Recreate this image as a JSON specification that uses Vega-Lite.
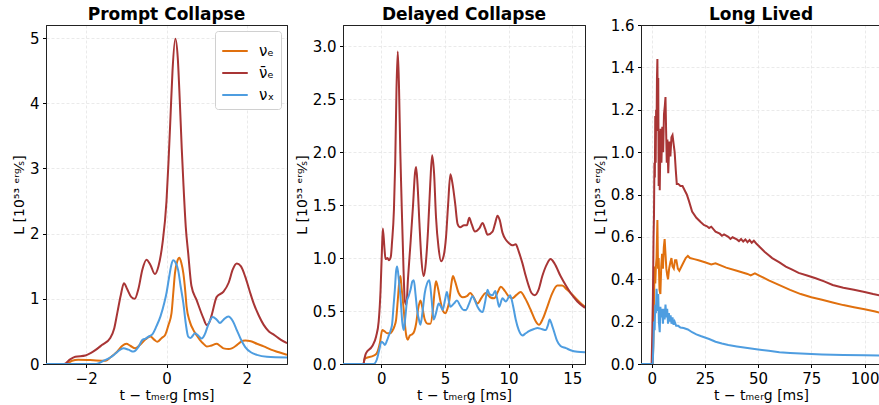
{
  "$schema": "https://vega.github.io/schema/vega-lite/v6.json",
  "padding": {"left": 11, "top": 5, "right": 0, "bottom": 0},
  "bounds": "flush",
  "spacing": 56,
  "config": {
    "font": "DejaVu Sans",
    "view": {"stroke": "#222222", "strokeWidth": 1},
    "style": {"cell": {"stroke": "#222222", "strokeWidth": 1}},
    "title": {"fontSize": 17, "fontWeight": "bold", "font": "DejaVu Sans", "offset": 1, "baseline": "alphabetic", "color": "black"},
    "axis": {
      "domain": true, "domainColor": "#222222", "domainWidth": 1, "labelFont": "DejaVu Sans", "labelFontSize": 15, "labelColor": "black",
      "titleFont": "DejaVu Sans", "titleFontSize": 14, "titleFontWeight": "normal", "titleColor": "black",
      "tickColor": "black", "tickSize": 3.5, "labelPadding": 3.5,
      "gridColor": "#e4e4e4", "gridDash": [3, 2], "gridWidth": 0.8
    },
    "axisX": {"titlePadding": 2},
    "axisY": {"titlePadding": 3},
    "line": {"strokeWidth": 2, "clip": true}
  },
  "datasets": {
    "p1": [
      {"t":-3,"L":0,"s":"νₑ"},{"t":-2.5,"L":0,"s":"νₑ"},{"t":-2.35,"L":0.05,"s":"νₑ"},{"t":-2.2,"L":0.065,"s":"νₑ"},{"t":-1.9,"L":0.06,"s":"νₑ"},{"t":-1.52,"L":0.05,"s":"νₑ"},{"t":-1.4,"L":0.1,"s":"νₑ"},{"t":-1.23,"L":0.19,"s":"νₑ"},{"t":-1.1,"L":0.28,"s":"νₑ"},{"t":-1.0,"L":0.31,"s":"νₑ"},{"t":-0.9,"L":0.28,"s":"νₑ"},{"t":-0.78,"L":0.24,"s":"νₑ"},{"t":-0.65,"L":0.3,"s":"νₑ"},{"t":-0.52,"L":0.38,"s":"νₑ"},{"t":-0.4,"L":0.42,"s":"νₑ"},{"t":-0.3,"L":0.37,"s":"νₑ"},{"t":-0.23,"L":0.34,"s":"νₑ"},{"t":-0.12,"L":0.4,"s":"νₑ"},{"t":-0.03,"L":0.45,"s":"νₑ"},{"t":0.05,"L":0.6,"s":"νₑ"},{"t":0.125,"L":0.78,"s":"νₑ"},{"t":0.17,"L":1.1,"s":"νₑ"},{"t":0.21,"L":1.39,"s":"νₑ"},{"t":0.27,"L":1.58,"s":"νₑ"},{"t":0.32,"L":1.63,"s":"νₑ"},{"t":0.37,"L":1.55,"s":"νₑ"},{"t":0.42,"L":1.39,"s":"νₑ"},{"t":0.47,"L":1.1,"s":"νₑ"},{"t":0.5,"L":0.88,"s":"νₑ"},{"t":0.58,"L":0.65,"s":"νₑ"},{"t":0.67,"L":0.52,"s":"νₑ"},{"t":0.75,"L":0.44,"s":"νₑ"},{"t":0.83,"L":0.37,"s":"νₑ"},{"t":0.92,"L":0.31,"s":"νₑ"},{"t":1.0,"L":0.27,"s":"νₑ"},{"t":1.1,"L":0.28,"s":"νₑ"},{"t":1.25,"L":0.31,"s":"νₑ"},{"t":1.33,"L":0.28,"s":"νₑ"},{"t":1.42,"L":0.24,"s":"νₑ"},{"t":1.55,"L":0.23,"s":"νₑ"},{"t":1.625,"L":0.24,"s":"νₑ"},{"t":1.75,"L":0.29,"s":"νₑ"},{"t":1.85,"L":0.34,"s":"νₑ"},{"t":1.96,"L":0.36,"s":"νₑ"},{"t":2.1,"L":0.35,"s":"νₑ"},{"t":2.25,"L":0.31,"s":"νₑ"},{"t":2.42,"L":0.27,"s":"νₑ"},{"t":2.6,"L":0.22,"s":"νₑ"},{"t":2.8,"L":0.18,"s":"νₑ"},{"t":3.0,"L":0.14,"s":"νₑ"},

      {"t":-3,"L":0,"s":"ν̄ₑ"},{"t":-2.55,"L":0,"s":"ν̄ₑ"},{"t":-2.4,"L":0.07,"s":"ν̄ₑ"},{"t":-2.27,"L":0.11,"s":"ν̄ₑ"},{"t":-2.02,"L":0.13,"s":"ν̄ₑ"},{"t":-1.8,"L":0.2,"s":"ν̄ₑ"},{"t":-1.61,"L":0.29,"s":"ν̄ₑ"},{"t":-1.4,"L":0.4,"s":"ν̄ₑ"},{"t":-1.3,"L":0.55,"s":"ν̄ₑ"},{"t":-1.22,"L":0.8,"s":"ν̄ₑ"},{"t":-1.14,"L":1.05,"s":"ν̄ₑ"},{"t":-1.06,"L":1.24,"s":"ν̄ₑ"},{"t":-0.98,"L":1.15,"s":"ν̄ₑ"},{"t":-0.88,"L":1.03,"s":"ν̄ₑ"},{"t":-0.79,"L":1.0,"s":"ν̄ₑ"},{"t":-0.7,"L":1.15,"s":"ν̄ₑ"},{"t":-0.6,"L":1.45,"s":"ν̄ₑ"},{"t":-0.5,"L":1.6,"s":"ν̄ₑ"},{"t":-0.4,"L":1.52,"s":"ν̄ₑ"},{"t":-0.29,"L":1.38,"s":"ν̄ₑ"},{"t":-0.2,"L":1.5,"s":"ν̄ₑ"},{"t":-0.1,"L":1.85,"s":"ν̄ₑ"},{"t":0.0,"L":2.5,"s":"ν̄ₑ"},{"t":0.05,"L":3.1,"s":"ν̄ₑ"},{"t":0.1,"L":3.8,"s":"ν̄ₑ"},{"t":0.15,"L":4.5,"s":"ν̄ₑ"},{"t":0.22,"L":4.99,"s":"ν̄ₑ"},{"t":0.28,"L":4.7,"s":"ν̄ₑ"},{"t":0.33,"L":4.05,"s":"ν̄ₑ"},{"t":0.38,"L":3.3,"s":"ν̄ₑ"},{"t":0.42,"L":2.78,"s":"ν̄ₑ"},{"t":0.48,"L":2.1,"s":"ν̄ₑ"},{"t":0.54,"L":1.7,"s":"ν̄ₑ"},{"t":0.62,"L":1.2,"s":"ν̄ₑ"},{"t":0.75,"L":0.98,"s":"ν̄ₑ"},{"t":0.92,"L":0.7,"s":"ν̄ₑ"},{"t":1.0,"L":0.6,"s":"ν̄ₑ"},{"t":1.06,"L":0.63,"s":"ν̄ₑ"},{"t":1.125,"L":0.75,"s":"ν̄ₑ"},{"t":1.25,"L":1.03,"s":"ν̄ₑ"},{"t":1.42,"L":1.11,"s":"ν̄ₑ"},{"t":1.55,"L":1.25,"s":"ν̄ₑ"},{"t":1.65,"L":1.45,"s":"ν̄ₑ"},{"t":1.75,"L":1.54,"s":"ν̄ₑ"},{"t":1.85,"L":1.5,"s":"ν̄ₑ"},{"t":1.96,"L":1.34,"s":"ν̄ₑ"},{"t":2.07,"L":1.12,"s":"ν̄ₑ"},{"t":2.17,"L":0.93,"s":"ν̄ₑ"},{"t":2.3,"L":0.74,"s":"ν̄ₑ"},{"t":2.42,"L":0.6,"s":"ν̄ₑ"},{"t":2.55,"L":0.5,"s":"ν̄ₑ"},{"t":2.67,"L":0.45,"s":"ν̄ₑ"},{"t":2.85,"L":0.37,"s":"ν̄ₑ"},{"t":3.0,"L":0.32,"s":"ν̄ₑ"},

      {"t":-3,"L":0,"s":"νₓ"},{"t":-1.75,"L":0,"s":"νₓ"},{"t":-1.57,"L":0.05,"s":"νₓ"},{"t":-1.4,"L":0.1,"s":"νₓ"},{"t":-1.27,"L":0.16,"s":"νₓ"},{"t":-1.15,"L":0.22,"s":"νₓ"},{"t":-1.07,"L":0.24,"s":"νₓ"},{"t":-0.95,"L":0.22,"s":"νₓ"},{"t":-0.82,"L":0.19,"s":"νₓ"},{"t":-0.7,"L":0.26,"s":"νₓ"},{"t":-0.6,"L":0.37,"s":"νₓ"},{"t":-0.52,"L":0.39,"s":"νₓ"},{"t":-0.42,"L":0.43,"s":"νₓ"},{"t":-0.36,"L":0.45,"s":"νₓ"},{"t":-0.25,"L":0.58,"s":"νₓ"},{"t":-0.15,"L":0.73,"s":"νₓ"},{"t":-0.05,"L":0.95,"s":"νₓ"},{"t":0.0,"L":1.09,"s":"νₓ"},{"t":0.07,"L":1.35,"s":"νₓ"},{"t":0.12,"L":1.52,"s":"νₓ"},{"t":0.17,"L":1.59,"s":"νₓ"},{"t":0.23,"L":1.55,"s":"νₓ"},{"t":0.29,"L":1.44,"s":"νₓ"},{"t":0.35,"L":1.2,"s":"νₓ"},{"t":0.42,"L":0.93,"s":"νₓ"},{"t":0.48,"L":0.62,"s":"νₓ"},{"t":0.54,"L":0.42,"s":"νₓ"},{"t":0.6,"L":0.4,"s":"νₓ"},{"t":0.71,"L":0.47,"s":"νₓ"},{"t":0.8,"L":0.43,"s":"νₓ"},{"t":0.875,"L":0.39,"s":"νₓ"},{"t":0.95,"L":0.45,"s":"νₓ"},{"t":1.05,"L":0.62,"s":"νₓ"},{"t":1.15,"L":0.72,"s":"νₓ"},{"t":1.25,"L":0.68,"s":"νₓ"},{"t":1.33,"L":0.63,"s":"νₓ"},{"t":1.42,"L":0.68,"s":"νₓ"},{"t":1.54,"L":0.73,"s":"νₓ"},{"t":1.65,"L":0.66,"s":"νₓ"},{"t":1.75,"L":0.52,"s":"νₓ"},{"t":1.85,"L":0.38,"s":"νₓ"},{"t":1.96,"L":0.26,"s":"νₓ"},{"t":2.1,"L":0.18,"s":"νₓ"},{"t":2.25,"L":0.14,"s":"νₓ"},{"t":2.5,"L":0.11,"s":"νₓ"},{"t":3.0,"L":0.1,"s":"νₓ"}
    ],
    "p2": [
      {"t":-3,"L":0,"s":"νₑ"},{"t":-1.4,"L":0,"s":"νₑ"},{"t":-1.3,"L":0.05,"s":"νₑ"},{"t":-0.57,"L":0.08,"s":"νₑ"},{"t":-0.35,"L":0.1,"s":"νₑ"},{"t":-0.1,"L":0.2,"s":"νₑ"},{"t":0.08,"L":0.32,"s":"νₑ"},{"t":0.25,"L":0.31,"s":"νₑ"},{"t":0.47,"L":0.29,"s":"νₑ"},{"t":0.7,"L":0.29,"s":"νₑ"},{"t":0.86,"L":0.31,"s":"νₑ"},{"t":1.05,"L":0.36,"s":"νₑ"},{"t":1.17,"L":0.42,"s":"νₑ"},{"t":1.3,"L":0.6,"s":"νₑ"},{"t":1.42,"L":0.78,"s":"νₑ"},{"t":1.51,"L":0.83,"s":"νₑ"},{"t":1.6,"L":0.72,"s":"νₑ"},{"t":1.77,"L":0.51,"s":"νₑ"},{"t":1.9,"L":0.33,"s":"νₑ"},{"t":2.0,"L":0.25,"s":"νₑ"},{"t":2.09,"L":0.23,"s":"νₑ"},{"t":2.25,"L":0.27,"s":"νₑ"},{"t":2.43,"L":0.28,"s":"νₑ"},{"t":2.6,"L":0.31,"s":"νₑ"},{"t":2.74,"L":0.38,"s":"νₑ"},{"t":2.9,"L":0.52,"s":"νₑ"},{"t":3.08,"L":0.6,"s":"νₑ"},{"t":3.25,"L":0.52,"s":"νₑ"},{"t":3.42,"L":0.42,"s":"νₑ"},{"t":3.65,"L":0.38,"s":"νₑ"},{"t":3.86,"L":0.38,"s":"νₑ"},{"t":4.05,"L":0.5,"s":"νₑ"},{"t":4.2,"L":0.7,"s":"νₑ"},{"t":4.3,"L":0.78,"s":"νₑ"},{"t":4.45,"L":0.72,"s":"νₑ"},{"t":4.64,"L":0.6,"s":"νₑ"},{"t":4.85,"L":0.5,"s":"νₑ"},{"t":5.03,"L":0.48,"s":"νₑ"},{"t":5.2,"L":0.52,"s":"νₑ"},{"t":5.35,"L":0.6,"s":"νₑ"},{"t":5.5,"L":0.75,"s":"νₑ"},{"t":5.63,"L":0.83,"s":"νₑ"},{"t":5.8,"L":0.78,"s":"νₑ"},{"t":6.08,"L":0.67,"s":"νₑ"},{"t":6.4,"L":0.63,"s":"νₑ"},{"t":6.73,"L":0.64,"s":"νₑ"},{"t":6.99,"L":0.67,"s":"νₑ"},{"t":7.3,"L":0.62,"s":"νₑ"},{"t":7.56,"L":0.57,"s":"νₑ"},{"t":7.9,"L":0.63,"s":"νₑ"},{"t":8.2,"L":0.67,"s":"νₑ"},{"t":8.55,"L":0.63,"s":"νₑ"},{"t":8.87,"L":0.62,"s":"νₑ"},{"t":9.15,"L":0.68,"s":"νₑ"},{"t":9.39,"L":0.73,"s":"νₑ"},{"t":9.7,"L":0.69,"s":"νₑ"},{"t":10.0,"L":0.64,"s":"νₑ"},{"t":10.3,"L":0.62,"s":"νₑ"},{"t":10.6,"L":0.65,"s":"νₑ"},{"t":10.95,"L":0.68,"s":"νₑ"},{"t":11.3,"L":0.62,"s":"νₑ"},{"t":11.74,"L":0.51,"s":"νₑ"},{"t":12.1,"L":0.41,"s":"νₑ"},{"t":12.39,"L":0.37,"s":"νₑ"},{"t":12.7,"L":0.43,"s":"νₑ"},{"t":13.04,"L":0.54,"s":"νₑ"},{"t":13.4,"L":0.66,"s":"νₑ"},{"t":13.83,"L":0.74,"s":"νₑ"},{"t":14.2,"L":0.74,"s":"νₑ"},{"t":14.6,"L":0.7,"s":"νₑ"},{"t":15.2,"L":0.63,"s":"νₑ"},{"t":15.6,"L":0.58,"s":"νₑ"},{"t":16,"L":0.54,"s":"νₑ"},

      {"t":-3,"L":0,"s":"ν̄ₑ"},{"t":-1.4,"L":0,"s":"ν̄ₑ"},{"t":-1.3,"L":0.06,"s":"ν̄ₑ"},{"t":-1.2,"L":0.1,"s":"ν̄ₑ"},{"t":-0.7,"L":0.17,"s":"ν̄ₑ"},{"t":-0.4,"L":0.26,"s":"ν̄ₑ"},{"t":-0.2,"L":0.4,"s":"ν̄ₑ"},{"t":-0.05,"L":0.7,"s":"ν̄ₑ"},{"t":0.05,"L":1.05,"s":"ν̄ₑ"},{"t":0.13,"L":1.28,"s":"ν̄ₑ"},{"t":0.25,"L":1.1,"s":"ν̄ₑ"},{"t":0.34,"L":0.99,"s":"ν̄ₑ"},{"t":0.5,"L":1.0,"s":"ν̄ₑ"},{"t":0.6,"L":0.98,"s":"ν̄ₑ"},{"t":0.75,"L":1.01,"s":"ν̄ₑ"},{"t":0.85,"L":1.15,"s":"ν̄ₑ"},{"t":1.0,"L":1.46,"s":"ν̄ₑ"},{"t":1.1,"L":1.9,"s":"ν̄ₑ"},{"t":1.2,"L":2.6,"s":"ν̄ₑ"},{"t":1.3,"L":2.95,"s":"ν̄ₑ"},{"t":1.4,"L":2.6,"s":"ν̄ₑ"},{"t":1.5,"L":2.0,"s":"ν̄ₑ"},{"t":1.59,"L":1.58,"s":"ν̄ₑ"},{"t":1.75,"L":0.9,"s":"ν̄ₑ"},{"t":1.85,"L":0.6,"s":"ν̄ₑ"},{"t":1.98,"L":0.56,"s":"ν̄ₑ"},{"t":2.1,"L":0.8,"s":"ν̄ₑ"},{"t":2.3,"L":1.14,"s":"ν̄ₑ"},{"t":2.5,"L":1.5,"s":"ν̄ₑ"},{"t":2.65,"L":1.8,"s":"ν̄ₑ"},{"t":2.74,"L":1.86,"s":"ν̄ₑ"},{"t":2.85,"L":1.7,"s":"ν̄ₑ"},{"t":3.0,"L":1.33,"s":"ν̄ₑ"},{"t":3.15,"L":1.0,"s":"ν̄ₑ"},{"t":3.34,"L":0.83,"s":"ν̄ₑ"},{"t":3.5,"L":0.95,"s":"ν̄ₑ"},{"t":3.68,"L":1.27,"s":"ν̄ₑ"},{"t":3.85,"L":1.7,"s":"ν̄ₑ"},{"t":4.0,"L":1.97,"s":"ν̄ₑ"},{"t":4.15,"L":1.8,"s":"ν̄ₑ"},{"t":4.3,"L":1.39,"s":"ν̄ₑ"},{"t":4.5,"L":1.1,"s":"ν̄ₑ"},{"t":4.7,"L":0.97,"s":"ν̄ₑ"},{"t":4.9,"L":1.02,"s":"ν̄ₑ"},{"t":5.09,"L":1.2,"s":"ν̄ₑ"},{"t":5.25,"L":1.5,"s":"ν̄ₑ"},{"t":5.43,"L":1.79,"s":"ν̄ₑ"},{"t":5.6,"L":1.7,"s":"ν̄ₑ"},{"t":5.8,"L":1.52,"s":"ν̄ₑ"},{"t":6.0,"L":1.32,"s":"ν̄ₑ"},{"t":6.2,"L":1.29,"s":"ν̄ₑ"},{"t":6.5,"L":1.31,"s":"ν̄ₑ"},{"t":6.73,"L":1.31,"s":"ν̄ₑ"},{"t":6.91,"L":1.38,"s":"ν̄ₑ"},{"t":7.1,"L":1.32,"s":"ν̄ₑ"},{"t":7.36,"L":1.25,"s":"ν̄ₑ"},{"t":7.7,"L":1.28,"s":"ν̄ₑ"},{"t":7.96,"L":1.33,"s":"ν̄ₑ"},{"t":8.15,"L":1.28,"s":"ν̄ₑ"},{"t":8.35,"L":1.22,"s":"ν̄ₑ"},{"t":8.74,"L":1.25,"s":"ν̄ₑ"},{"t":8.95,"L":1.33,"s":"ν̄ₑ"},{"t":9.13,"L":1.4,"s":"ν̄ₑ"},{"t":9.3,"L":1.36,"s":"ν̄ₑ"},{"t":9.52,"L":1.24,"s":"ν̄ₑ"},{"t":9.8,"L":1.17,"s":"ν̄ₑ"},{"t":10.04,"L":1.14,"s":"ν̄ₑ"},{"t":10.3,"L":1.12,"s":"ν̄ₑ"},{"t":10.56,"L":1.13,"s":"ν̄ₑ"},{"t":10.8,"L":1.06,"s":"ν̄ₑ"},{"t":11.09,"L":0.95,"s":"ν̄ₑ"},{"t":11.35,"L":0.83,"s":"ν̄ₑ"},{"t":11.6,"L":0.73,"s":"ν̄ₑ"},{"t":11.8,"L":0.67,"s":"ν̄ₑ"},{"t":12.05,"L":0.65,"s":"ν̄ₑ"},{"t":12.35,"L":0.7,"s":"ν̄ₑ"},{"t":12.65,"L":0.83,"s":"ν̄ₑ"},{"t":13.0,"L":0.94,"s":"ν̄ₑ"},{"t":13.3,"L":0.99,"s":"ν̄ₑ"},{"t":13.6,"L":0.95,"s":"ν̄ₑ"},{"t":14.08,"L":0.83,"s":"ν̄ₑ"},{"t":14.5,"L":0.74,"s":"ν̄ₑ"},{"t":14.87,"L":0.67,"s":"ν̄ₑ"},{"t":15.4,"L":0.59,"s":"ν̄ₑ"},{"t":16,"L":0.53,"s":"ν̄ₑ"},

      {"t":-3,"L":0,"s":"νₓ"},{"t":-0.6,"L":0,"s":"νₓ"},{"t":-0.35,"L":0.04,"s":"νₓ"},{"t":-0.18,"L":0.12,"s":"νₓ"},{"t":0.02,"L":0.21,"s":"νₓ"},{"t":0.15,"L":0.2,"s":"νₓ"},{"t":0.29,"L":0.18,"s":"νₓ"},{"t":0.45,"L":0.22,"s":"νₓ"},{"t":0.6,"L":0.27,"s":"νₓ"},{"t":0.75,"L":0.32,"s":"νₓ"},{"t":0.86,"L":0.38,"s":"νₓ"},{"t":0.97,"L":0.55,"s":"νₓ"},{"t":1.07,"L":0.7,"s":"νₓ"},{"t":1.17,"L":0.88,"s":"νₓ"},{"t":1.25,"L":0.92,"s":"νₓ"},{"t":1.38,"L":0.8,"s":"νₓ"},{"t":1.51,"L":0.64,"s":"νₓ"},{"t":1.65,"L":0.4,"s":"νₓ"},{"t":1.77,"L":0.32,"s":"νₓ"},{"t":1.9,"L":0.45,"s":"νₓ"},{"t":2.03,"L":0.6,"s":"νₓ"},{"t":2.15,"L":0.64,"s":"νₓ"},{"t":2.3,"L":0.7,"s":"νₓ"},{"t":2.45,"L":0.78,"s":"νₓ"},{"t":2.56,"L":0.79,"s":"νₓ"},{"t":2.7,"L":0.65,"s":"νₓ"},{"t":2.82,"L":0.51,"s":"νₓ"},{"t":3.0,"L":0.4,"s":"νₓ"},{"t":3.08,"L":0.37,"s":"νₓ"},{"t":3.25,"L":0.5,"s":"νₓ"},{"t":3.42,"L":0.67,"s":"νₓ"},{"t":3.6,"L":0.76,"s":"νₓ"},{"t":3.78,"L":0.79,"s":"νₓ"},{"t":3.95,"L":0.62,"s":"νₓ"},{"t":4.12,"L":0.42,"s":"νₓ"},{"t":4.3,"L":0.48,"s":"νₓ"},{"t":4.51,"L":0.57,"s":"νₓ"},{"t":4.65,"L":0.55,"s":"νₓ"},{"t":4.83,"L":0.51,"s":"νₓ"},{"t":5.0,"L":0.6,"s":"νₓ"},{"t":5.16,"L":0.68,"s":"νₓ"},{"t":5.3,"L":0.6,"s":"νₓ"},{"t":5.42,"L":0.54,"s":"νₓ"},{"t":5.7,"L":0.57,"s":"νₓ"},{"t":5.95,"L":0.6,"s":"νₓ"},{"t":6.2,"L":0.55,"s":"νₓ"},{"t":6.47,"L":0.51,"s":"νₓ"},{"t":6.65,"L":0.51,"s":"νₓ"},{"t":6.9,"L":0.57,"s":"νₓ"},{"t":7.17,"L":0.64,"s":"νₓ"},{"t":7.35,"L":0.6,"s":"νₓ"},{"t":7.56,"L":0.54,"s":"νₓ"},{"t":7.96,"L":0.49,"s":"νₓ"},{"t":8.15,"L":0.58,"s":"νₓ"},{"t":8.35,"L":0.7,"s":"νₓ"},{"t":8.5,"L":0.66,"s":"νₓ"},{"t":8.74,"L":0.65,"s":"νₓ"},{"t":8.95,"L":0.69,"s":"νₓ"},{"t":9.1,"L":0.62,"s":"νₓ"},{"t":9.26,"L":0.54,"s":"νₓ"},{"t":9.52,"L":0.62,"s":"νₓ"},{"t":9.78,"L":0.59,"s":"νₓ"},{"t":10.12,"L":0.65,"s":"νₓ"},{"t":10.35,"L":0.55,"s":"νₓ"},{"t":10.56,"L":0.42,"s":"νₓ"},{"t":10.8,"L":0.32,"s":"νₓ"},{"t":11.09,"L":0.27,"s":"νₓ"},{"t":11.35,"L":0.29,"s":"νₓ"},{"t":11.6,"L":0.31,"s":"νₓ"},{"t":12.0,"L":0.33,"s":"νₓ"},{"t":12.26,"L":0.34,"s":"νₓ"},{"t":12.6,"L":0.33,"s":"νₓ"},{"t":12.91,"L":0.32,"s":"νₓ"},{"t":13.1,"L":0.37,"s":"νₓ"},{"t":13.22,"L":0.42,"s":"νₓ"},{"t":13.4,"L":0.37,"s":"νₓ"},{"t":13.56,"L":0.31,"s":"νₓ"},{"t":13.8,"L":0.22,"s":"νₓ"},{"t":14.08,"L":0.17,"s":"νₓ"},{"t":14.5,"L":0.15,"s":"νₓ"},{"t":14.87,"L":0.13,"s":"νₓ"},{"t":15.4,"L":0.115,"s":"νₓ"},{"t":16,"L":0.11,"s":"νₓ"}
    ],
    "p3": [
      {"t":-5,"L":0,"s":"νₑ"},{"t":0.5,"L":0,"s":"νₑ"},{"t":0.8,"L":0.1,"s":"νₑ"},{"t":1.1,"L":0.3,"s":"νₑ"},{"t":1.4,"L":0.46,"s":"νₑ"},{"t":1.7,"L":0.38,"s":"νₑ"},{"t":2.0,"L":0.46,"s":"νₑ"},{"t":2.3,"L":0.5,"s":"νₑ"},{"t":2.7,"L":0.68,"s":"νₑ"},{"t":3.0,"L":0.45,"s":"νₑ"},{"t":3.3,"L":0.5,"s":"νₑ"},{"t":3.7,"L":0.35,"s":"νₑ"},{"t":4.1,"L":0.33,"s":"νₑ"},{"t":4.5,"L":0.46,"s":"νₑ"},{"t":4.9,"L":0.52,"s":"νₑ"},{"t":5.3,"L":0.45,"s":"νₑ"},{"t":5.7,"L":0.55,"s":"νₑ"},{"t":6.1,"L":0.59,"s":"νₑ"},{"t":6.5,"L":0.52,"s":"νₑ"},{"t":6.9,"L":0.45,"s":"νₑ"},{"t":7.3,"L":0.42,"s":"νₑ"},{"t":7.7,"L":0.4,"s":"νₑ"},{"t":8.2,"L":0.45,"s":"νₑ"},{"t":8.8,"L":0.48,"s":"νₑ"},{"t":9.3,"L":0.5,"s":"νₑ"},{"t":9.8,"L":0.46,"s":"νₑ"},{"t":10.4,"L":0.45,"s":"νₑ"},{"t":11,"L":0.49,"s":"νₑ"},{"t":11.6,"L":0.49,"s":"νₑ"},{"t":12.3,"L":0.45,"s":"νₑ"},{"t":13,"L":0.44,"s":"νₑ"},{"t":14,"L":0.46,"s":"νₑ"},{"t":15,"L":0.48,"s":"νₑ"},{"t":16,"L":0.5,"s":"νₑ"},{"t":17,"L":0.51,"s":"νₑ"},{"t":18,"L":0.5,"s":"νₑ"},{"t":20,"L":0.495,"s":"νₑ"},{"t":22,"L":0.49,"s":"νₑ"},{"t":25,"L":0.48,"s":"νₑ"},{"t":28,"L":0.47,"s":"νₑ"},{"t":30,"L":0.475,"s":"νₑ"},{"t":35,"L":0.455,"s":"νₑ"},{"t":40,"L":0.44,"s":"νₑ"},{"t":45,"L":0.425,"s":"νₑ"},{"t":46.5,"L":0.418,"s":"νₑ"},{"t":48.5,"L":0.428,"s":"νₑ"},{"t":51,"L":0.415,"s":"νₑ"},{"t":55,"L":0.395,"s":"νₑ"},{"t":60,"L":0.372,"s":"νₑ"},{"t":65,"L":0.35,"s":"νₑ"},{"t":70,"L":0.33,"s":"νₑ"},{"t":75,"L":0.315,"s":"νₑ"},{"t":80,"L":0.303,"s":"νₑ"},{"t":85,"L":0.29,"s":"νₑ"},{"t":90,"L":0.278,"s":"νₑ"},{"t":95,"L":0.268,"s":"νₑ"},{"t":100,"L":0.258,"s":"νₑ"},{"t":105,"L":0.248,"s":"νₑ"},{"t":108,"L":0.24,"s":"νₑ"},

      {"t":-5,"L":0,"s":"ν̄ₑ"},{"t":0,"L":0,"s":"ν̄ₑ"},{"t":0.3,"L":0.15,"s":"ν̄ₑ"},{"t":0.6,"L":0.32,"s":"ν̄ₑ"},{"t":0.9,"L":0.6,"s":"ν̄ₑ"},{"t":1.1,"L":0.7,"s":"ν̄ₑ"},{"t":1.3,"L":0.95,"s":"ν̄ₑ"},{"t":1.5,"L":0.88,"s":"ν̄ₑ"},{"t":1.7,"L":1.17,"s":"ν̄ₑ"},{"t":1.9,"L":0.95,"s":"ν̄ₑ"},{"t":2.1,"L":1.2,"s":"ν̄ₑ"},{"t":2.3,"L":1.1,"s":"ν̄ₑ"},{"t":2.5,"L":1.35,"s":"ν̄ₑ"},{"t":2.7,"L":1.44,"s":"ν̄ₑ"},{"t":2.9,"L":1.15,"s":"ν̄ₑ"},{"t":3.1,"L":1.35,"s":"ν̄ₑ"},{"t":3.3,"L":0.84,"s":"ν̄ₑ"},{"t":3.5,"L":1.1,"s":"ν̄ₑ"},{"t":3.8,"L":0.82,"s":"ν̄ₑ"},{"t":4.2,"L":1.11,"s":"ν̄ₑ"},{"t":4.6,"L":0.95,"s":"ν̄ₑ"},{"t":5.0,"L":1.12,"s":"ν̄ₑ"},{"t":5.4,"L":1.0,"s":"ν̄ₑ"},{"t":5.8,"L":1.18,"s":"ν̄ₑ"},{"t":6.2,"L":1.22,"s":"ν̄ₑ"},{"t":6.5,"L":1.26,"s":"ν̄ₑ"},{"t":6.8,"L":1.1,"s":"ν̄ₑ"},{"t":7.1,"L":0.95,"s":"ν̄ₑ"},{"t":7.4,"L":1.06,"s":"ν̄ₑ"},{"t":7.8,"L":0.9,"s":"ν̄ₑ"},{"t":8.3,"L":1.05,"s":"ν̄ₑ"},{"t":8.8,"L":0.98,"s":"ν̄ₑ"},{"t":9.3,"L":1.07,"s":"ν̄ₑ"},{"t":9.8,"L":1.08,"s":"ν̄ₑ"},{"t":10.3,"L":1.04,"s":"ν̄ₑ"},{"t":10.8,"L":1.0,"s":"ν̄ₑ"},{"t":11.3,"L":0.92,"s":"ν̄ₑ"},{"t":11.8,"L":0.85,"s":"ν̄ₑ"},{"t":12.5,"L":0.85,"s":"ν̄ₑ"},{"t":13.5,"L":0.84,"s":"ν̄ₑ"},{"t":14.5,"L":0.84,"s":"ν̄ₑ"},{"t":15.5,"L":0.82,"s":"ν̄ₑ"},{"t":16.5,"L":0.8,"s":"ν̄ₑ"},{"t":17.5,"L":0.77,"s":"ν̄ₑ"},{"t":19,"L":0.72,"s":"ν̄ₑ"},{"t":21,"L":0.69,"s":"ν̄ₑ"},{"t":23,"L":0.67,"s":"ν̄ₑ"},{"t":24.5,"L":0.656,"s":"ν̄ₑ"},{"t":26,"L":0.65,"s":"ν̄ₑ"},{"t":27,"L":0.642,"s":"ν̄ₑ"},{"t":28,"L":0.648,"s":"ν̄ₑ"},{"t":30,"L":0.625,"s":"ν̄ₑ"},{"t":32,"L":0.615,"s":"ν̄ₑ"},{"t":33,"L":0.605,"s":"ν̄ₑ"},{"t":34,"L":0.612,"s":"ν̄ₑ"},{"t":36,"L":0.6,"s":"ν̄ₑ"},{"t":37,"L":0.59,"s":"ν̄ₑ"},{"t":38,"L":0.598,"s":"ν̄ₑ"},{"t":40,"L":0.588,"s":"ν̄ₑ"},{"t":41,"L":0.58,"s":"ν̄ₑ"},{"t":42,"L":0.59,"s":"ν̄ₑ"},{"t":43,"L":0.578,"s":"ν̄ₑ"},{"t":44,"L":0.588,"s":"ν̄ₑ"},{"t":45,"L":0.575,"s":"ν̄ₑ"},{"t":46,"L":0.585,"s":"ν̄ₑ"},{"t":47,"L":0.572,"s":"ν̄ₑ"},{"t":48,"L":0.582,"s":"ν̄ₑ"},{"t":49,"L":0.57,"s":"ν̄ₑ"},{"t":51,"L":0.55,"s":"ν̄ₑ"},{"t":53,"L":0.53,"s":"ν̄ₑ"},{"t":56.6,"L":0.5,"s":"ν̄ₑ"},{"t":60,"L":0.48,"s":"ν̄ₑ"},{"t":63,"L":0.46,"s":"ν̄ₑ"},{"t":66,"L":0.445,"s":"ν̄ₑ"},{"t":69,"L":0.43,"s":"ν̄ₑ"},{"t":73,"L":0.418,"s":"ν̄ₑ"},{"t":77,"L":0.405,"s":"ν̄ₑ"},{"t":81,"L":0.39,"s":"ν̄ₑ"},{"t":85,"L":0.373,"s":"ν̄ₑ"},{"t":90,"L":0.36,"s":"ν̄ₑ"},{"t":95,"L":0.35,"s":"ν̄ₑ"},{"t":100,"L":0.34,"s":"ν̄ₑ"},{"t":104,"L":0.33,"s":"ν̄ₑ"},{"t":108,"L":0.322,"s":"ν̄ₑ"},

      {"t":-5,"L":0,"s":"νₓ"},{"t":0.5,"L":0,"s":"νₓ"},{"t":0.8,"L":0.08,"s":"νₓ"},{"t":1.1,"L":0.2,"s":"νₓ"},{"t":1.4,"L":0.16,"s":"νₓ"},{"t":1.7,"L":0.28,"s":"νₓ"},{"t":2.0,"L":0.24,"s":"νₓ"},{"t":2.3,"L":0.355,"s":"νₓ"},{"t":2.6,"L":0.3,"s":"νₓ"},{"t":2.8,"L":0.25,"s":"νₓ"},{"t":3.1,"L":0.33,"s":"νₓ"},{"t":3.4,"L":0.2,"s":"νₓ"},{"t":3.8,"L":0.15,"s":"νₓ"},{"t":4.1,"L":0.27,"s":"νₓ"},{"t":4.5,"L":0.22,"s":"νₓ"},{"t":4.9,"L":0.26,"s":"νₓ"},{"t":5.3,"L":0.19,"s":"νₓ"},{"t":5.7,"L":0.26,"s":"νₓ"},{"t":6.1,"L":0.21,"s":"νₓ"},{"t":6.5,"L":0.28,"s":"νₓ"},{"t":6.9,"L":0.22,"s":"νₓ"},{"t":7.3,"L":0.26,"s":"νₓ"},{"t":7.7,"L":0.19,"s":"νₓ"},{"t":8.1,"L":0.24,"s":"νₓ"},{"t":8.5,"L":0.2,"s":"νₓ"},{"t":8.9,"L":0.23,"s":"νₓ"},{"t":9.3,"L":0.19,"s":"νₓ"},{"t":9.8,"L":0.22,"s":"νₓ"},{"t":10.3,"L":0.185,"s":"νₓ"},{"t":10.8,"L":0.2,"s":"νₓ"},{"t":11.5,"L":0.18,"s":"νₓ"},{"t":12.5,"L":0.18,"s":"νₓ"},{"t":13.5,"L":0.172,"s":"νₓ"},{"t":15,"L":0.17,"s":"νₓ"},{"t":17,"L":0.163,"s":"νₓ"},{"t":19,"L":0.15,"s":"νₓ"},{"t":21,"L":0.14,"s":"νₓ"},{"t":23,"L":0.132,"s":"νₓ"},{"t":25,"L":0.125,"s":"νₓ"},{"t":27,"L":0.118,"s":"νₓ"},{"t":30,"L":0.105,"s":"νₓ"},{"t":33,"L":0.097,"s":"νₓ"},{"t":36,"L":0.09,"s":"νₓ"},{"t":40,"L":0.083,"s":"νₓ"},{"t":45,"L":0.075,"s":"νₓ"},{"t":50,"L":0.068,"s":"νₓ"},{"t":55,"L":0.062,"s":"νₓ"},{"t":60,"L":0.056,"s":"νₓ"},{"t":65,"L":0.052,"s":"νₓ"},{"t":70,"L":0.049,"s":"νₓ"},{"t":80,"L":0.045,"s":"νₓ"},{"t":90,"L":0.043,"s":"νₓ"},{"t":100,"L":0.041,"s":"νₓ"},{"t":108,"L":0.04,"s":"νₓ"}
    ]
  },
  "hconcat": [
    {
      "title": "Prompt Collapse",
      "width": 241, "height": 339,
      "data": {"name": "p1"},
      "layer": [
        {
          "mark": {"type": "line", "strokeWidth": 2, "clip": true, "interpolate": "monotone"},
          "encoding": {
            "x": {"field": "t", "type": "quantitative", "scale": {"domain": [-3, 3], "nice": false, "zero": false},
                  "axis": {"orient": "bottom", "values": [-2, 0, 2], "title": "t − tₘₑᵣg [ms]"}},
            "y": {"field": "L", "type": "quantitative", "scale": {"domain": [0, 5.2], "nice": false},
                  "axis": {"orient": "left", "values": [0, 1, 2, 3, 4, 5], "title": "L [10⁵³ ᵉʳᵍ⁄ₛ]"}},
            "color": {"field": "s", "type": "nominal",
                      "scale": {"domain": ["νₑ", "ν̄ₑ", "νₓ"], "range": ["#e0700e", "#a83535", "#4e9de0"]},
                      "legend": {"title": null, "orient": "top-right", "offset": 6, "labelFontSize": 15, "labelFont": "DejaVu Sans", "labelColor": "black",
                                 "symbolType": "stroke", "symbolSize": 650, "symbolStrokeWidth": 2, "rowPadding": -2,
                                 "fillColor": "white", "strokeColor": "#d0d0d0", "cornerRadius": 3, "padding": 6, "labelOffset": 10}}
          }
        },
        {
          "mark": {"type": "line", "opacity": 0, "clip": true},
          "encoding": {
            "x": {"field": "t", "type": "quantitative", "axis": {"orient": "top", "labels": false, "ticks": false, "tickSize": 0, "labelPadding": 0, "grid": false, "title": null}},
            "y": {"field": "L", "type": "quantitative", "axis": {"orient": "right", "labels": false, "ticks": false, "tickSize": 0, "labelPadding": 0, "grid": false, "title": null}}
          }
        }
      ]
    },
    {
      "title": "Delayed Collapse",
      "width": 242, "height": 339,
      "data": {"name": "p2"},
      "layer": [
        {
          "mark": {"type": "line", "strokeWidth": 2, "clip": true, "interpolate": "monotone"},
          "encoding": {
            "x": {"field": "t", "type": "quantitative", "scale": {"domain": [-3, 16], "nice": false, "zero": false},
                  "axis": {"orient": "bottom", "values": [0, 5, 10, 15], "title": "t − tₘₑᵣg [ms]"}},
            "y": {"field": "L", "type": "quantitative", "scale": {"domain": [0, 3.2], "nice": false},
                  "axis": {"orient": "left", "values": [0, 0.5, 1, 1.5, 2, 2.5, 3], "format": ".1f", "title": "L [10⁵³ ᵉʳᵍ⁄ₛ]"}},
            "color": {"field": "s", "type": "nominal",
                      "scale": {"domain": ["νₑ", "ν̄ₑ", "νₓ"], "range": ["#e0700e", "#a83535", "#4e9de0"]},
                      "legend": null}
          }
        },
        {
          "mark": {"type": "line", "opacity": 0, "clip": true},
          "encoding": {
            "x": {"field": "t", "type": "quantitative", "axis": {"orient": "top", "labels": false, "ticks": false, "tickSize": 0, "labelPadding": 0, "grid": false, "title": null}},
            "y": {"field": "L", "type": "quantitative", "axis": {"orient": "right", "labels": false, "ticks": false, "tickSize": 0, "labelPadding": 0, "grid": false, "title": null}}
          }
        }
      ]
    },
    {
      "title": {"text": "Long Lived", "offset": -6},
      "width": 240, "height": 339,
      "data": {"name": "p3"},
      "layer": [
        {
          "mark": {"type": "line", "strokeWidth": 2, "clip": true},
          "encoding": {
            "x": {"field": "t", "type": "quantitative", "scale": {"domain": [-5, 107.7], "nice": false, "zero": false},
                  "axis": {"orient": "bottom", "values": [0, 25, 50, 75, 100], "title": "t − tₘₑᵣg [ms]"}},
            "y": {"field": "L", "type": "quantitative", "scale": {"domain": [0, 1.6], "nice": false},
                  "axis": {"orient": "left", "values": [0, 0.2, 0.4, 0.6, 0.8, 1, 1.2, 1.4, 1.6], "format": ".1f", "title": "L [10⁵³ ᵉʳᵍ⁄ₛ]"}},
            "color": {"field": "s", "type": "nominal",
                      "scale": {"domain": ["νₑ", "ν̄ₑ", "νₓ"], "range": ["#e0700e", "#a83535", "#4e9de0"]},
                      "legend": null}
          }
        },
        {
          "mark": {"type": "line", "opacity": 0, "clip": true},
          "encoding": {
            "x": {"field": "t", "type": "quantitative", "axis": {"orient": "top", "labels": false, "ticks": false, "tickSize": 0, "labelPadding": 0, "grid": false, "title": null}},
            "y": {"field": "L", "type": "quantitative", "axis": {"orient": "right", "labels": false, "ticks": false, "tickSize": 0, "labelPadding": 0, "grid": false, "title": null}}
          }
        }
      ]
    }
  ],
  "resolve": {"scale": {"color": "independent"}, "legend": {"color": "independent"}}
}
